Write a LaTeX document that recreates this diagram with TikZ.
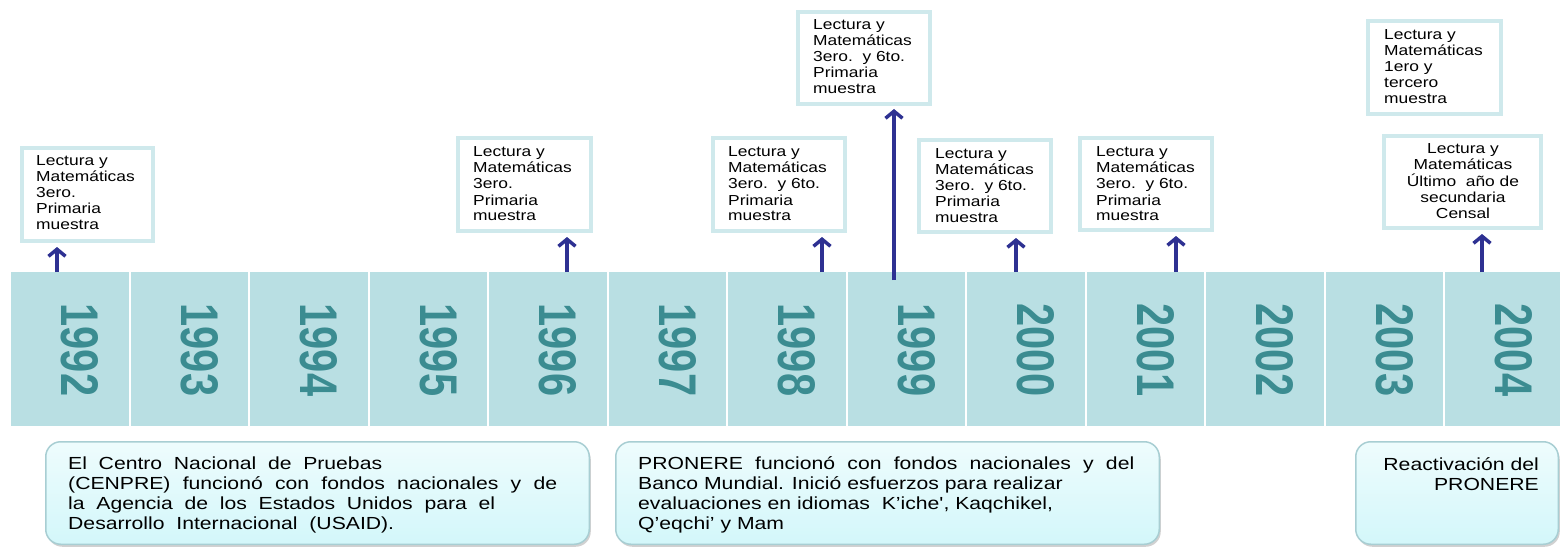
\documentclass[tikz,border=0pt]{standalone}
\usepackage{fontspec}
\setmainfont{Liberation Sans}
\usetikzlibrary{arrows.meta,shadows}
\definecolor{bandc}{HTML}{B9DFE3}
\definecolor{yearc}{HTML}{3B8C91}
\definecolor{arrowc}{HTML}{2E3192}
\definecolor{sboxc}{HTML}{CFE9EC}
\definecolor{bboxc}{HTML}{A8CED3}
\definecolor{btop}{HTML}{EEFCFD}
\definecolor{bbot}{HTML}{D3F7FA}
\begin{document}
\begin{tikzpicture}[x=1pt,y=-1pt,
  cell/.style={rectangle,fill=bandc,draw=none,minimum width=117.5pt,minimum height=154pt,inner sep=0pt},
  yr/.style={rotate=-90,text=yearc,inner sep=0pt,font=\fontsize{53}{53}\selectfont\bfseries},
  sbox/.style={rectangle,draw=sboxc,line width=4pt,fill=white,inner sep=0pt},
  stext/.style={inner sep=0pt,font=\fontsize{14.5}{16}\selectfont},
  arr/.style={draw=arrowc,line width=4.5pt,-{Straight Barb[length=7pt,width=17pt,line width=3.5pt]}},
  bbox/.style={rectangle,rounded corners=15pt,draw=bboxc,line width=1.5pt,top color=btop,bottom color=bbot,
    drop shadow={shadow xshift=1.5pt,shadow yshift=-2.5pt,fill=black!40,opacity=0.45},inner sep=0pt},
  btext/.style={inner sep=0pt,font=\fontsize{17.5}{20}\selectfont}
]
\useasboundingbox (0,0) rectangle (1560,548);
\fill[white] (0,0) rectangle (1560,548);

% year band
\foreach \i/\y in {0/1992,1/1993,2/1994,3/1995,4/1996,5/1997,6/1998,7/1999,8/2000,9/2001,10/2002,11/2003,12/2004}{
  \node[cell] (c\y) at ({69.75+\i*119.5},349) {};
  \node[yr] (y\y) at ({80+\i*119.5},350) {\scalebox{0.785}[1]{\y}};
}

% small boxes
\newcommand\sfive[5]{\scalebox{1.2}[1]{\begin{tabular}{@{}l@{}}#1\\#2\\#3\\#4\\#5\end{tabular}}}
\node[sbox,minimum width=131pt,minimum height=93pt] (b1992) at (87.5,194.5) {};
\node[stext,anchor=west] (s1992) at (36,194.8) {\sfive{Lectura y}{Matemáticas}{3ero.}{Primaria}{muestra}};

\node[sbox,minimum width=133pt,minimum height=93pt] (b1996) at (524.5,184.5) {};
\node[stext,anchor=west] (s1996) at (473,185.8) {\sfive{Lectura y}{Matemáticas}{3ero.}{Primaria}{muestra}};

\node[sbox,minimum width=132pt,minimum height=93pt] (b1998) at (779,184.5) {};
\node[stext,anchor=west] (s1998) at (728,185.8) {\sfive{Lectura y}{Matemáticas}{3ero.\ \ y 6to.}{Primaria}{muestra}};

\node[sbox,minimum width=132pt,minimum height=92pt] (b1999) at (864,58) {};
\node[stext,anchor=west] (s1999) at (813,58.8) {\sfive{Lectura y}{Matemáticas}{3ero.\ \ y 6to.}{Primaria}{muestra}};

\node[sbox,minimum width=132pt,minimum height=92pt] (b2000) at (985,186) {};
\node[stext,anchor=west] (s2000) at (935,187.8) {\sfive{Lectura y}{Matemáticas}{3ero.\ \ y 6to.}{Primaria}{muestra}};

\node[sbox,minimum width=132pt,minimum height=92pt] (b2001) at (1146,184) {};
\node[stext,anchor=west] (s2001) at (1096,185.8) {\sfive{Lectura y}{Matemáticas}{3ero.\ \ y 6to.}{Primaria}{muestra}};

\node[sbox,minimum width=133pt,minimum height=93pt] (b2003) at (1434.5,67.5) {};
\node[stext,anchor=west] (s2003) at (1384,68.8) {\sfive{Lectura y}{Matemáticas}{1ero y}{tercero}{muestra}};

\node[sbox,minimum width=157pt,minimum height=92pt] (b2004) at (1462.5,182) {};
\node[stext] (s2004) at (1463,182.8) {\scalebox{1.2}[1]{\begin{tabular}{@{}c@{}}Lectura y\\Matemáticas\\Último\ \ año de\\secundaria\\Censal\end{tabular}}};

% arrows
\coordinate (a1992) at (57,272);
\coordinate (a1996) at (567,272);
\coordinate (a1998) at (822,272);
\coordinate (a1999) at (894,280);
\coordinate (a2000) at (1016,272);
\coordinate (a2001) at (1176,272);
\coordinate (a2004) at (1482,272);
\draw[arr,shorten >=4pt] (a1992) -- (a1992 |- b1992.south);
\draw[arr,shorten >=4pt] (a1996) -- (a1996 |- b1996.south);
\draw[arr,shorten >=4pt] (a1998) -- (a1998 |- b1998.south);
\draw[arr,shorten >=3pt] (a1999) -- (a1999 |- b1999.south);
\draw[arr,shorten >=4pt] (a2000) -- (a2000 |- b2000.south);
\draw[arr,shorten >=4pt] (a2001) -- (a2001 |- b2001.south);
\draw[arr,shorten >=4pt] (a2004) -- (a2004 |- b2004.south);

% bottom boxes
\node[bbox,minimum width=543.5pt,minimum height=102.5pt] (n1) at (317.5,493) {};
\node[bbox,minimum width=543.5pt,minimum height=102.5pt] (n2) at (887.5,493) {};
\node[bbox,minimum width=202.5pt,minimum height=102.5pt] (n3) at (1457,493) {};

\node[btext,anchor=base west] (t1) at (68,469) {\scalebox{1.21}[1]{\begin{tabular}[t]{@{}l@{}}%
\makebox[259.5pt][s]{El Centro Nacional de Pruebas}\\
\makebox[404.1pt][s]{(CENPRE) funcionó con fondos nacionales y de}\\
\makebox[352.9pt][s]{la Agencia de los Estados Unidos para el}\\
\makebox[269.4pt][s]{Desarrollo Internacional (USAID).}\end{tabular}}};

\node[btext,anchor=base west] (t2) at (638,469) {\scalebox{1.21}[1]{\begin{tabular}[t]{@{}l@{}}%
\makebox[410pt][s]{PRONERE funcionó con fondos nacionales y del}\\
Banco Mundial. Inició esfuerzos para realizar\\
evaluaciones en idiomas\ \ K’iche\textquotesingle, Kaqchikel,\\
Q’eqchi’ y Mam\end{tabular}}};

\node[btext,anchor=base east] (t3) at (1539,470) {\scalebox{1.21}[1]{\begin{tabular}[t]{@{}r@{}}%
Reactivación del\\PRONERE\end{tabular}}};
\end{tikzpicture}
\end{document}
